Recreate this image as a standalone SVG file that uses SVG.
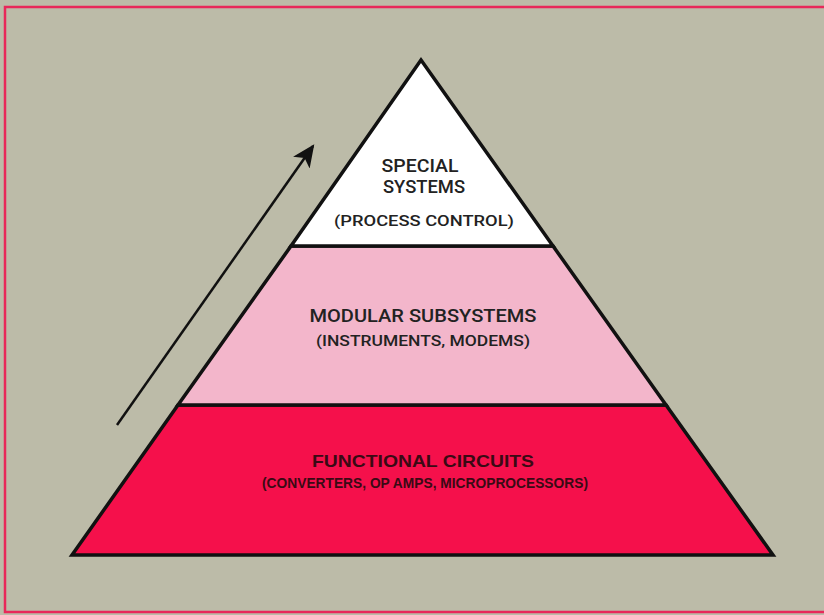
<svg xmlns="http://www.w3.org/2000/svg" width="824" height="615" viewBox="0 0 824 615">
<defs>
<marker id="ah" viewBox="0 0 10 10" refX="9" refY="5" markerWidth="9" markerHeight="9" markerUnits="strokeWidth" orient="auto">
<path d="M0,0.5 L10,5 L0,9.5 L2.5,5 z" fill="#111"/>
</marker>
</defs>
<style>
.tier{stroke:#111;stroke-width:3.5;stroke-linejoin:miter}
.t{font-family:Roboto,"Liberation Sans",sans-serif;font-weight:500;fill:#222;text-anchor:middle}
.big{font-size:18px}
.small{font-size:15.5px}
.cond{font-family:"Liberation Sans",sans-serif;font-weight:bold;fill:#3a0a14;text-anchor:middle}
</style>
<rect x="0" y="0" width="824" height="615" fill="#bcbba8"/>
<rect x="5" y="7" width="822" height="605" fill="none" stroke="#e8285a" stroke-width="2.5"/>
<g id="functional-circuits">
<polygon class="tier" points="178,405 666,405 773,555 72,555" fill="#f5104b"/>
<text class="cond" x="423" y="467" font-size="17" textLength="222" lengthAdjust="spacingAndGlyphs">FUNCTIONAL CIRCUITS</text>
<text class="cond" x="425" y="488" font-size="15.5" textLength="326" lengthAdjust="spacingAndGlyphs">(CONVERTERS, OP AMPS, MICROPROCESSORS)</text>
</g>
<g id="modular-subsystems">
<polygon class="tier" points="291,246 553,246 666,405 178,405" fill="#f3b6cb"/>
<text class="t big" x="423" y="322" textLength="227" lengthAdjust="spacingAndGlyphs">MODULAR SUBSYSTEMS</text>
<text class="t small" x="423" y="346" textLength="214" lengthAdjust="spacingAndGlyphs">(INSTRUMENTS, MODEMS)</text>
</g>
<g id="special-systems">
<polygon class="tier" points="421,60 553,246 291,246" fill="#ffffff"/>
<text class="t big" x="420" y="172" textLength="77" lengthAdjust="spacingAndGlyphs">SPECIAL</text>
<text class="t big" x="424" y="193" textLength="82" lengthAdjust="spacingAndGlyphs">SYSTEMS</text>
<text class="t small" x="424" y="226" textLength="180" lengthAdjust="spacingAndGlyphs">(PROCESS CONTROL)</text>
</g>
<g id="connectors">
<line x1="117" y1="425" x2="313" y2="146" stroke="#111" stroke-width="2.5" marker-end="url(#ah)"/>
</g>
</svg>
